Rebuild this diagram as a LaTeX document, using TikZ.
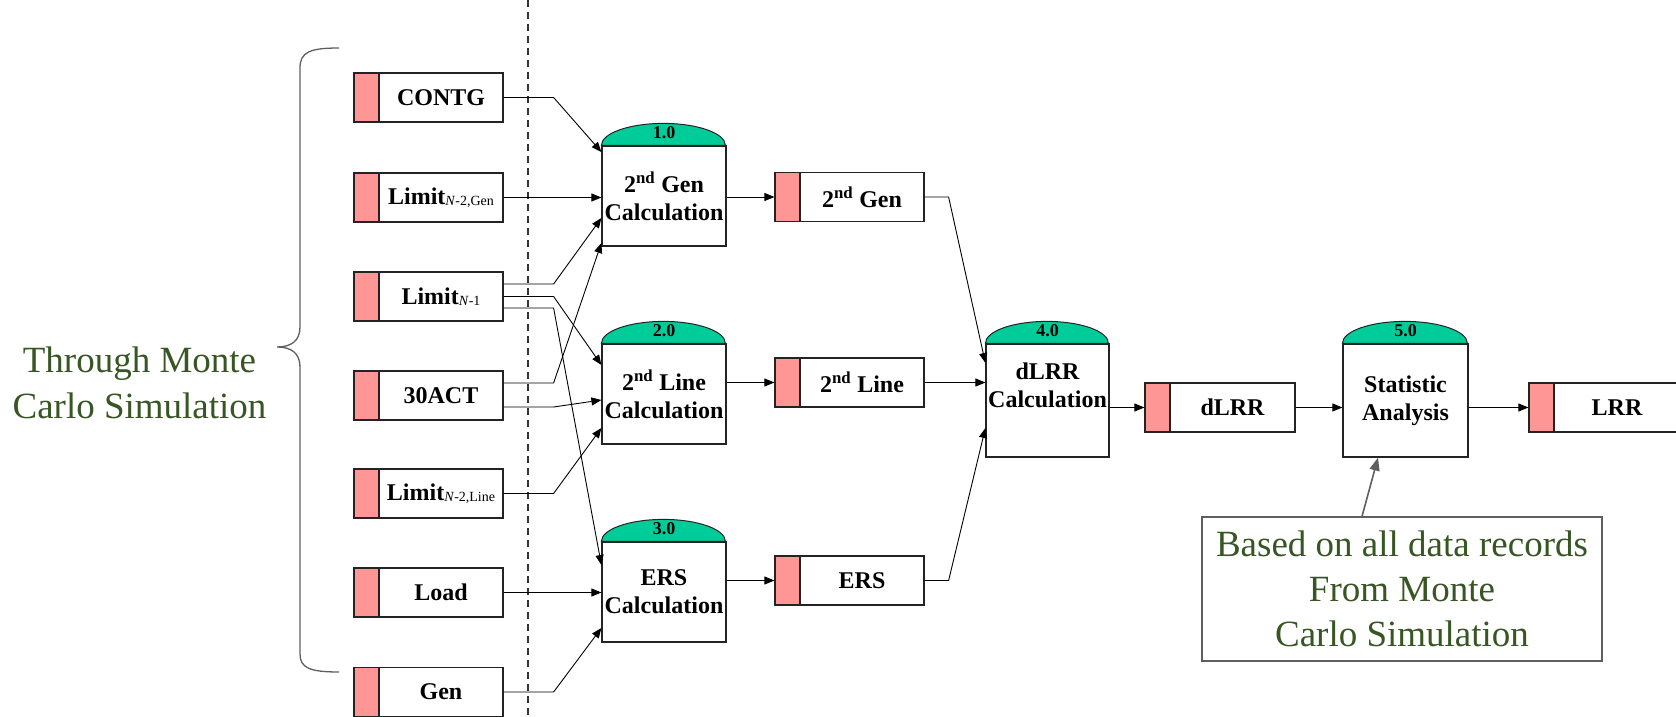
\documentclass[tikz,border=0pt]{standalone}
\usepackage{fontspec}
\setmainfont{Liberation Serif}
\usetikzlibrary{arrows.meta,calc}
\definecolor{pinkc}{RGB}{255,150,150}
\definecolor{domec}{RGB}{0,204,153}
\definecolor{greentext}{RGB}{55,86,35}
\definecolor{edgec}{RGB}{35,35,35}
\definecolor{grayc}{RGB}{95,95,95}
\newcommand\limsub[1]{{\fontsize{14}{14}\selectfont\mdseries\raisebox{-1.5pt}{\textit{N}-#1}}}
\newcommand\mydome[3]{%
  \filldraw[fill=domec, draw=edgec, line width=1pt] (#1.north west) arc[start angle=180, end angle=0, x radius=#3pt, y radius=22pt] -- cycle;
  \node[domenum] (#1num) at ([yshift=7pt]#1.north) {#2};}
\begin{document}
\begin{tikzpicture}[x=1pt,y=-1pt,
  inbox/.style={draw=edgec, line width=1.2pt, fill=white, minimum width=149pt, minimum height=49pt, inner sep=0pt,
    font=\fontsize{24}{26}\selectfont\bfseries,
    execute at begin node={\hspace*{25pt}},
    path picture={\fill[pinkc] (path picture bounding box.north west) rectangle ([xshift=25pt]path picture bounding box.south west);
      \draw[edgec, line width=1.2pt] ([xshift=25pt]path picture bounding box.north west) -- ([xshift=25pt]path picture bounding box.south west);}},
  calcbox/.style={draw=edgec, line width=1.2pt, fill=white, minimum width=124pt, minimum height=100pt, inner sep=0pt, align=center,
    font=\fontsize{24}{28}\selectfont\bfseries},
  calctext/.style={align=center, inner sep=0pt, font=\fontsize{24}{28}\selectfont\bfseries},
  domenum/.style={anchor=base, inner sep=0pt, font=\fontsize{18}{18}\selectfont\bfseries},
  conn/.style={draw=black, line width=0.9pt, -{Triangle[length=10pt,width=8pt]}},
  greentxt/.style={align=center, inner sep=0pt, text=greentext, font=\fontsize{37}{46}\selectfont},
  notebox/.style={draw=grayc, line width=1.2pt, minimum width=400pt, minimum height=144pt, align=center, inner sep=0pt,
    text=greentext, font=\fontsize{37}{45}\selectfont},
  notearrow/.style={draw=grayc, line width=1.6pt, -{Triangle[length=13pt,width=10pt]}},
  bracestyle/.style={draw=grayc, line width=1.3pt},
  divider/.style={draw=black!80, line width=1.3pt, dash pattern=on 7pt off 5pt}
  ]
\useasboundingbox (0,0) rectangle (1676,717);

% dashed divider
\coordinate (dtop) at (528,0);
\coordinate (dbot) at (528,717);
\draw[divider] (dtop) -- (dbot);

% brace and left text
\draw[bracestyle] (339,48) .. controls (310,48) and (300,52) .. (300,68) -- (300,327)
  .. controls (300,341) and (291,347) .. (277,347) .. controls (291,347) and (300,353) .. (300,367)
  -- (300,654) .. controls (300,668) and (310,672) .. (339,672);
\node[greentxt] (mc) at (139.5,383) {Through Monte\\Carlo Simulation};

% input boxes
\node[inbox] (contg) at (428.5,97.5) {CONTG};
\node[inbox] (lgen) at (428.5,197.5) {Limit\limsub{2,Gen}};
\node[inbox] (lone) at (428.5,296.5) {Limit\limsub{1}};
\node[inbox] (act) at (428.5,395.5) {30ACT};
\node[inbox] (lline) at (428.5,493.5) {Limit\limsub{2,Line}};
\node[inbox] (load) at (428.5,592.5) {Load};
\node[inbox] (gen) at (428.5,692) {Gen};

% process boxes
\node[calcbox] (c1) at (664,196) {2\textsuperscript{nd} Gen\\Calculation};
\node[calcbox] (c2) at (664,394) {2\textsuperscript{nd} Line\\Calculation};
\node[calcbox] (c3) at (664,592) {ERS\\Calculation};
\node[calcbox, minimum width=123pt, minimum height=113pt] (c4) at (1047.5,400.5) {};
\node[calctext] (c4t) at (1047.5,385) {dLRR\\Calculation};
\node[calcbox, minimum width=125pt, minimum height=113pt] (c5) at (1405.5,400.5) {Statistic\\Analysis};
\mydome{c1}{1.0}{62}
\mydome{c2}{2.0}{62}
\mydome{c3}{3.0}{62}
\mydome{c4}{4.0}{61.5}
\mydome{c5}{5.0}{62.5}

% intermediate / output boxes
\node[inbox] (b2gen) at (849.5,197) {2\textsuperscript{nd} Gen};
\node[inbox] (b2line) at (849.5,382.5) {2\textsuperscript{nd} Line};
\node[inbox] (bers) at (849.5,580.5) {ERS};
\node[inbox, minimum width=150pt] (dlrr) at (1220,407.5) {dLRR};
\node[inbox, minimum width=151pt] (lrr) at (1604.5,407.5) {LRR};

% note
\node[notebox] (note) at (1402,589) {Based on all data records\\From Monte\\Carlo Simulation};

% connectors into process 1
\draw[conn] (contg.east) -- ++(50,0) -- ([yshift=44pt]c1.west);
\draw[conn] (lgen.east) -- (lgen.east -| c1.west);
\draw[conn] ([yshift=12.5pt]lone.east) -- ++(50,0) -- ([yshift=-22pt]c1.west);
\draw[conn] ([yshift=12.5pt]act.east) -- ++(50,0) -- ([yshift=-47pt]c1.west);
% into process 2
\draw[conn] (lone.east) -- ++(50,0) -- ([yshift=29pt]c2.west);
\draw[conn] ([yshift=-11.5pt]act.east) -- ++(50,0) -- ([yshift=-6pt]c2.west);
\draw[conn] (lline.east) -- ++(50,0) -- ([yshift=-34pt]c2.west);
% into process 3
\draw[conn] ([yshift=-11.5pt]lone.east) -- ++(50,0) -- ([yshift=27pt]c3.west);
\draw[conn] (load.east) -- (load.east -| c3.west);
\draw[conn] (gen.east) -- ++(50,0) -- ([yshift=-36pt]c3.west);
% outputs of processes 1-3
\draw[conn] (c1.east |- b2gen.west) -- (b2gen.west);
\draw[conn] (c2.east |- b2line.west) -- (b2line.west);
\draw[conn] (c3.east |- bers.west) -- (bers.west);
% into process 4
\draw[conn] (b2gen.east) -- ++(24,0) -- ([yshift=37.5pt]c4.west);
\draw[conn] (b2line.east) -- (b2line.east -| c4.west);
\draw[conn] (bers.east) -- ++(24,0) -- ([yshift=-27.5pt]c4.west);
% chain to the right
\draw[conn] (c4.east |- dlrr.west) -- (dlrr.west);
\draw[conn] (dlrr.east) -- (dlrr.east -| c5.west);
\draw[conn] (c5.east |- lrr.west) -- (lrr.west);
% note arrow
\draw[notearrow] ([xshift=-40pt]note.north) -- ([xshift=-27.5pt]c5.south);
\end{tikzpicture}
\end{document}
